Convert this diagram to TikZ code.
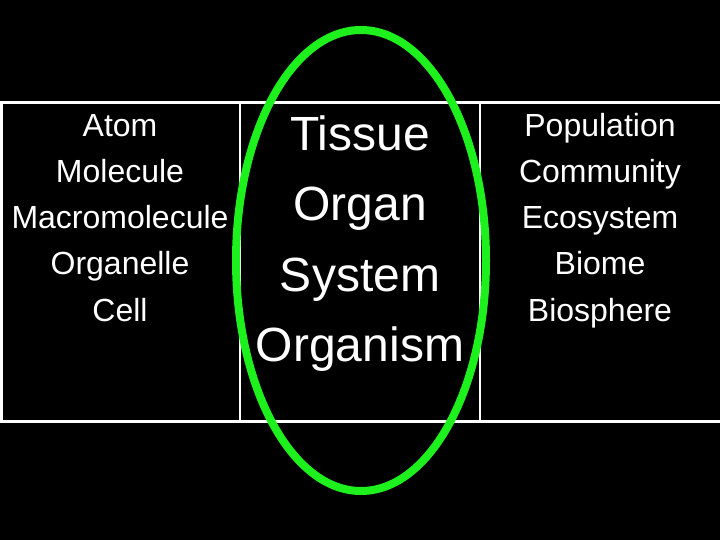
\documentclass[tikz,border=0pt]{standalone}
\usepackage{fontspec}
\setmainfont{Liberation Sans}
\definecolor{ringgreen}{RGB}{30,240,30}
\begin{document}
\begin{tikzpicture}[x=1bp,y=-1bp,
  small/.style={text=white,anchor=base,font=\fontsize{32bp}{38bp}\selectfont,inner sep=0pt},
  big/.style={text=white,anchor=base,font=\fontsize{48bp}{56bp}\selectfont,inner sep=0pt},
  outer/.style={draw=white,line width=3bp},
  divider/.style={draw=white,line width=2bp},
  ring/.style={draw=ringgreen,line width=8bp}]
\fill[black] (0,0) rectangle (720,540);
\useasboundingbox (0,0) rectangle (720,540);
% table
\draw[outer] (0,103) -- (720,103);
\draw[outer] (0,421) -- (720,421);
\draw[outer] (1.5,103) -- (1.5,421);
\draw[divider] (240,103) -- (240,421);
\draw[divider] (480,103) -- (480,421);
% left column
\node[small] (atom) at (120,137) {Atom};
\node[small] (molecule) at (120,183) {Molecule};
\node[small] (macro) at (120,229) {Macromolecule};
\node[small] (organelle) at (120,275) {Organelle};
\node[small] (cell) at (120,321) {Cell};
% middle column
\node[big] (tissue) at (360,151) {Tissue};
\node[big] (organ) at (360,221) {Organ};
\node[big] (system) at (360,291) {System};
\node[big] (organism) at (360,361) {Organism};
% right column
\node[small] (population) at (600,137) {Population};
\node[small] (community) at (600,183) {Community};
\node[small] (ecosystem) at (600,229) {Ecosystem};
\node[small] (biome) at (600,275) {Biome};
\node[small] (biosphere) at (600,321) {Biosphere};
% ellipse
\draw[ring] (361,260.5) ellipse [x radius=125, y radius=230.5];
\end{tikzpicture}
\end{document}
